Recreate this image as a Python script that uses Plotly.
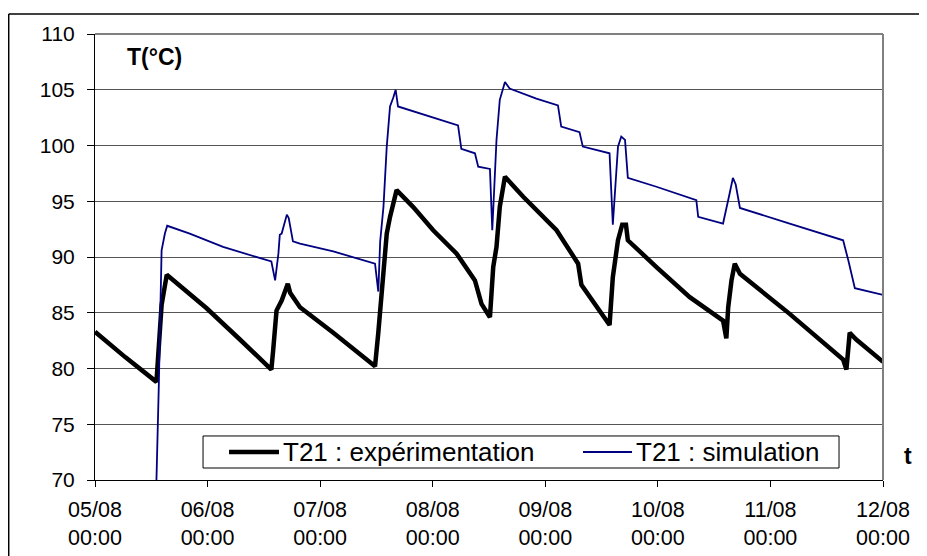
import plotly.graph_objects as go

# Time in hours since 05/08 00:00
exp_hours = [0, 6.5, 13.1, 13.5, 14.2, 15.3, 20.2, 23.8, 30.9, 37.6, 38.0, 38.7, 39.8, 41.1, 41.6, 43.7,
             50.8, 59.7, 60.4, 61.1, 62.2, 62.9, 64.3, 67.8, 72.1, 77.1, 81.0, 82.4, 84.2, 84.9, 85.6,
             86.3, 87.4, 91.3, 98.4, 103.0, 103.7, 109.7, 110.4, 111.5, 112.4, 113.2, 113.6, 119.7,
             126.8, 133.9, 134.6, 135.0, 135.7, 136.4, 137.5, 148.1, 159.5, 160.2, 160.9, 162.3, 168]
exp_values = [83.3, 81.0, 78.8, 81.7, 85.7, 88.4, 86.6, 85.4, 82.6, 79.9, 81.7, 85.2, 86.1, 87.6, 86.8, 85.5,
              83.2, 80.2, 83.2, 86.7, 92.1, 93.6, 96.0, 94.5, 92.4, 90.3, 87.9, 85.8, 84.6, 89.1, 90.9,
              94.5, 97.2, 95.4, 92.4, 89.4, 87.5, 83.9, 88.2, 91.5, 92.9, 92.9, 91.5, 89.1,
              86.4, 84.3, 82.7, 85.5, 87.9, 89.4, 88.5, 84.9, 80.8, 79.9, 83.2, 82.6, 80.6]

sim_hours = [13.0, 13.1, 13.6, 14.0, 14.2, 14.9, 15.4, 20.2, 27.3, 37.6, 38.4, 39.1, 39.4, 39.8, 40.9, 41.3,
             42.2, 43.7, 50.8, 59.7, 60.4, 60.8, 61.5, 62.2, 62.9, 63.6, 64.1, 64.6, 69.9, 77.4, 78.1,
             81.0, 81.7, 84.2, 84.7, 85.6, 86.3, 87.4, 88.4, 94.1, 98.7, 99.4, 103.3, 104.0, 109.7,
             110.4, 111.5, 112.2, 113.0, 113.6, 119.7, 128.2, 128.6, 133.9, 135.3, 136.0, 136.6,
             137.5, 148.1, 159.5, 160.6, 162.0, 168]
sim_values = [62.0, 70.0, 78.4, 86.1, 90.6, 92.1, 92.8, 92.1, 90.9, 89.6, 87.9, 90.3, 92.0, 92.1, 93.8, 93.5,
              91.4, 91.2, 90.5, 89.4, 86.9, 91.4, 94.5, 99.9, 103.5, 104.3, 105.0, 103.5, 102.8, 101.8, 99.7,
              99.3, 98.1, 97.9, 92.4, 100.5, 104.1, 105.7, 105.1, 104.2, 103.6, 101.7, 101.2, 99.9, 99.3,
              92.9, 99.9, 100.8, 100.5, 97.1, 96.3, 95.1, 93.6, 93.0, 95.7, 97.1, 96.5,
              94.4, 93.0, 91.5, 89.7, 87.2, 86.6]

tick_hours = [0, 24, 48, 72, 96, 120, 144, 168]
tick_labels = ["05/08<br>00:00", "06/08<br>00:00", "07/08<br>00:00", "08/08<br>00:00",
               "09/08<br>00:00", "10/08<br>00:00", "11/08<br>00:00", "12/08<br>00:00"]
y_ticks = [70, 75, 80, 85, 90, 95, 100, 105, 110]

series_names = ["T21 : expérimentation", "T21 : simulation"]
series_colors = ["#000000", "#000080"]
series_widths = [4.5, 1.8]

FONT = "Arial, 'Liberation Sans', sans-serif"

fig = go.Figure()
fig.add_trace(go.Scatter(x=exp_hours, y=exp_values, mode="lines", name=series_names[0],
                         line=dict(color=series_colors[0], width=series_widths[0])))
fig.add_trace(go.Scatter(x=sim_hours, y=sim_values, mode="lines", name=series_names[1],
                         line=dict(color=series_colors[1], width=series_widths[1])))

fig.update_layout(
    width=919, height=548,
    margin=dict(l=87, r=44, t=26, b=76, autoexpand=False),
    paper_bgcolor="white", plot_bgcolor="white",
    font=dict(family=FONT, size=21, color="black"),
    hovermode=False,
    showlegend=False,
)
fig.update_xaxes(range=[0, 168], tickvals=tick_hours, ticktext=tick_labels,
                 showgrid=False, zeroline=False, showline=True, linecolor="black", linewidth=1,
                 ticks="outside", ticklen=6, tickcolor="black", automargin=False,
                 ticklabelstandoff=4,
                 tickfont=dict(family=FONT, size=21.5, color="black"))
fig.update_yaxes(range=[70, 110], tickvals=y_ticks,
                 showgrid=True, gridcolor="#555555", gridwidth=1, zeroline=False,
                 showline=True, linecolor="black", linewidth=1,
                 ticks="outside", ticklen=7, tickcolor="black", automargin=False,
                 ticklabelstandoff=8,
                 tickfont=dict(family=FONT, size=21, color="black"))

# gray plot-area border on top and right
fig.add_shape(type="line", xref="paper", yref="paper", x0=0, x1=1, y0=1, y1=1,
              line=dict(color="#808080", width=2))
fig.add_shape(type="line", xref="paper", yref="paper", x0=1, x1=1, y0=0, y1=1,
              line=dict(color="#808080", width=2))
# outer chart border (top and left)
fig.add_shape(type="line", xref="paper", yref="paper", x0=-0.1095, x1=1.1, y0=1.0448, y1=1.0448,
              line=dict(color="black", width=1.5))
fig.add_shape(type="line", xref="paper", yref="paper", x0=-0.1095, x1=-0.1095, y0=-0.3, y1=1.0448,
              line=dict(color="black", width=1.5))

# legend box (drawn manually to match the reference layout)
fig.add_shape(type="rect", xref="paper", yref="paper", x0=0.1371, x1=0.9442, y0=0.0269, y1=0.0987,
              line=dict(color="black", width=1), fillcolor="white", layer="above")
legend_line_x = [(0.1701, 0.2335), (0.6193, 0.6815)]
legend_text_x = [0.2360, 0.6840]
for i in range(2):
    fig.add_shape(type="line", xref="paper", yref="paper",
                  x0=legend_line_x[i][0], x1=legend_line_x[i][1], y0=0.0628, y1=0.0628,
                  line=dict(color=series_colors[i], width=series_widths[i]), layer="above")
    fig.add_annotation(text=series_names[i], xref="paper", yref="paper", x=legend_text_x[i], y=0.0628,
                       xanchor="left", yanchor="middle", showarrow=False,
                       font=dict(family=FONT, size=26, color="black"))

fig.add_annotation(text="<b>T(°C)</b>", xref="paper", yref="paper", x=0.038, y=0.948,
                   xanchor="left", yanchor="middle", showarrow=False,
                   font=dict(family=FONT, size=23, color="black"))
fig.add_annotation(text="<b>t</b>", xref="paper", yref="paper", x=1.0235, y=0.054,
                   xanchor="left", yanchor="middle", showarrow=False,
                   font=dict(family=FONT, size=23, color="black"))

fig.write_html("out.html")
